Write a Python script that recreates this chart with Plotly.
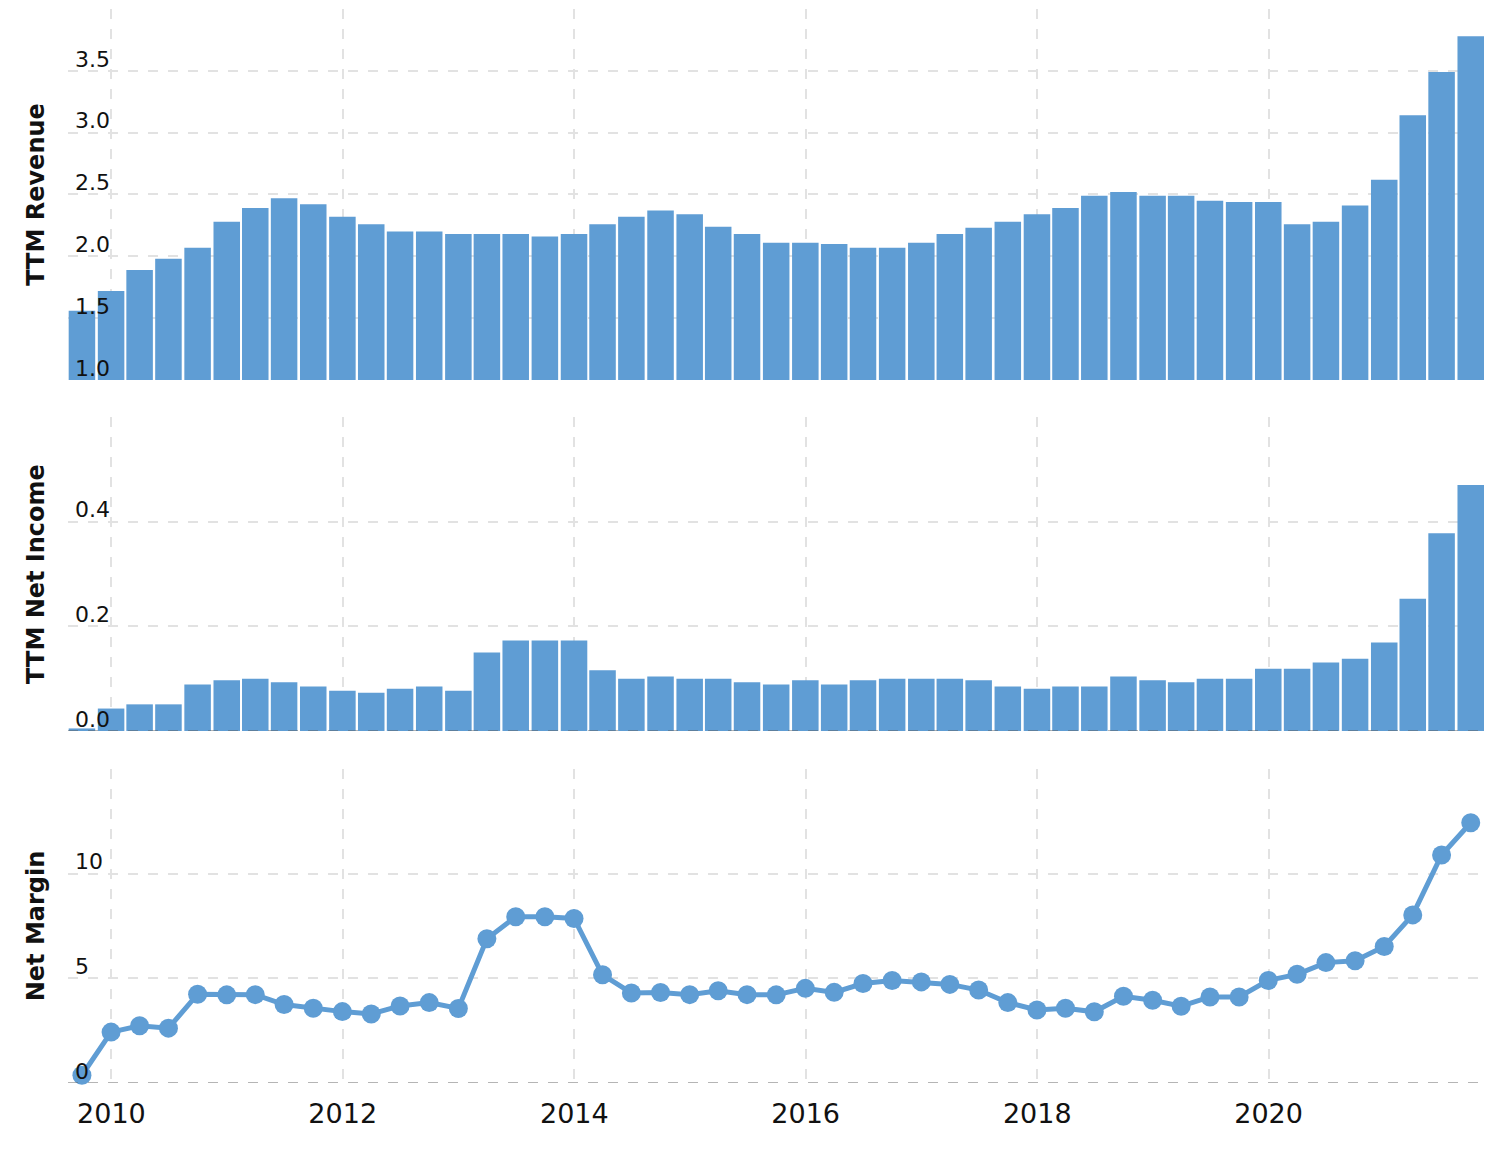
import plotly.graph_objects as go

quarters = [
    "2009-09-30", "2009-12-31",
    "2010-03-31", "2010-06-30", "2010-09-30", "2010-12-31",
    "2011-03-31", "2011-06-30", "2011-09-30", "2011-12-31",
    "2012-03-31", "2012-06-30", "2012-09-30", "2012-12-31",
    "2013-03-31", "2013-06-30", "2013-09-30", "2013-12-31",
    "2014-03-31", "2014-06-30", "2014-09-30", "2014-12-31",
    "2015-03-31", "2015-06-30", "2015-09-30", "2015-12-31",
    "2016-03-31", "2016-06-30", "2016-09-30", "2016-12-31",
    "2017-03-31", "2017-06-30", "2017-09-30", "2017-12-31",
    "2018-03-31", "2018-06-30", "2018-09-30", "2018-12-31",
    "2019-03-31", "2019-06-30", "2019-09-30", "2019-12-31",
    "2020-03-31", "2020-06-30", "2020-09-30", "2020-12-31",
    "2021-03-31", "2021-06-30", "2021-09-30",
]

ttm_revenue = [
    1.56, 1.72, 1.89, 1.98, 2.07, 2.28, 2.39, 2.47, 2.42, 2.32,
    2.26, 2.20, 2.20, 2.18, 2.18, 2.18, 2.16, 2.18, 2.26, 2.32,
    2.37, 2.34, 2.24, 2.18, 2.11, 2.11, 2.10, 2.07, 2.07, 2.11,
    2.18, 2.23, 2.28, 2.34, 2.39, 2.49, 2.52, 2.49, 2.49, 2.45,
    2.44, 2.44, 2.26, 2.28, 2.41, 2.62, 3.14, 3.49, 3.78,
]

ttm_net_income = [
    0.005, 0.043, 0.051, 0.051, 0.089, 0.097, 0.100, 0.093, 0.085, 0.077,
    0.073, 0.081, 0.085, 0.077, 0.150, 0.173, 0.173, 0.173, 0.116, 0.100,
    0.104, 0.100, 0.100, 0.093, 0.089, 0.097, 0.089, 0.097, 0.100, 0.100,
    0.100, 0.097, 0.085, 0.081, 0.085, 0.085, 0.104, 0.097, 0.093, 0.100,
    0.100, 0.119, 0.119, 0.131, 0.138, 0.169, 0.253, 0.378, 0.470,
]

net_margin = [
    0.37, 2.43, 2.73, 2.62, 4.24, 4.21, 4.22, 3.75, 3.57, 3.41,
    3.30, 3.68, 3.84, 3.56, 6.89, 7.94, 7.94, 7.86, 5.17, 4.30,
    4.32, 4.22, 4.41, 4.22, 4.21, 4.52, 4.33, 4.75, 4.90, 4.83,
    4.71, 4.44, 3.84, 3.49, 3.57, 3.40, 4.14, 3.95, 3.67, 4.11,
    4.11, 4.90, 5.19, 5.75, 5.84, 6.52, 8.03, 10.89, 12.43,
]

rev_ticks = [1.0, 1.5, 2.0, 2.5, 3.0, 3.5, 4.0]
rev_ticktext = ["1.0", "1.5", "2.0", "2.5", "3.0", "3.5", ""]
ni_ticks = [0.0, 0.2, 0.4, 0.6]
ni_ticktext = ["0.0", "0.2", "0.4", ""]
nm_ticks = [0, 5, 10, 15]
nm_ticktext = ["0", "5", "10", ""]

titles = ["TTM Revenue", "TTM Net Income", "Net Margin"]

BLUE = "#5f9dd4"
GRID = "#e2e2e2"
FONT = "DejaVu Sans"

fig = go.Figure()
fig.add_trace(go.Bar(x=quarters, y=ttm_revenue, marker_color=BLUE,
                     marker_line_width=0, xaxis="x", yaxis="y"))
fig.add_trace(go.Bar(x=quarters, y=ttm_net_income, marker_color=BLUE,
                     marker_line_width=0, xaxis="x2", yaxis="y2"))
fig.add_trace(go.Scatter(x=quarters, y=net_margin, mode="lines+markers",
                         line=dict(color=BLUE, width=5),
                         marker=dict(color=BLUE, size=19),
                         xaxis="x3", yaxis="y3", cliponaxis=False))

xrange = ["2009-08-17", "2021-11-14"]
xcommon = dict(type="date", range=xrange, showgrid=True, gridcolor=GRID,
               griddash="10px,10px", gridwidth=2, dtick="M24", tick0="2010-01-01",
               tickformat="%Y", zeroline=False, showline=False, ticks="",
               ticklabelstandoff=12,
               tickfont=dict(family=FONT, size=27, color="#111"))

ycommon = dict(showgrid=True, gridcolor=GRID, griddash="10px,10px", gridwidth=2,
               zeroline=False, showline=False, ticks="",
               ticklabelposition="inside", ticklabelshift=-12,
               ticklabelstandoff=4, ticklabeloverflow="allow",
               tickfont=dict(family=FONT, size=22, color="#111"),
               title_font=dict(family=FONT, size=24, color="#111"),
               title_standoff=23)

doms = [[0.6546, 1.0], [0.3277, 0.6201], [0.0, 0.2924]]

fig.update_layout(
    width=1506, height=1152,
    margin=dict(l=68, r=21, t=9, b=69),
    paper_bgcolor="white", plot_bgcolor="white",
    showlegend=False, bargap=0.07,
    xaxis=dict(**xcommon, anchor="y", showticklabels=False),
    xaxis2=dict(**xcommon, anchor="y2", matches="x", showticklabels=False),
    xaxis3=dict(**xcommon, anchor="y3", matches="x"),
    yaxis=dict(**ycommon, domain=doms[0], anchor="x", range=[1, 4],
               tickvals=rev_ticks, ticktext=rev_ticktext,
               title_text="<b>" + titles[0] + "</b>"),
    yaxis2=dict(**ycommon, domain=doms[1], anchor="x2", range=[0, 0.6],
                tickvals=ni_ticks, ticktext=ni_ticktext,
                title_text="<b>" + titles[1] + "</b>"),
    yaxis3=dict(**ycommon, domain=doms[2], anchor="x3", range=[0, 15],
                tickvals=nm_ticks, ticktext=nm_ticktext,
                title_text="<b>" + titles[2] + "</b>"),
)

for xr, yr in [("x2 domain", "y2"), ("x3 domain", "y3")]:
    fig.add_shape(type="line", xref=xr, yref=yr, x0=0, x1=1, y0=0, y1=0,
                  line=dict(color="rgba(90,90,90,0.45)", width=2, dash="10px,10px"),
                  layer="above")

fig.write_html("out.html")
